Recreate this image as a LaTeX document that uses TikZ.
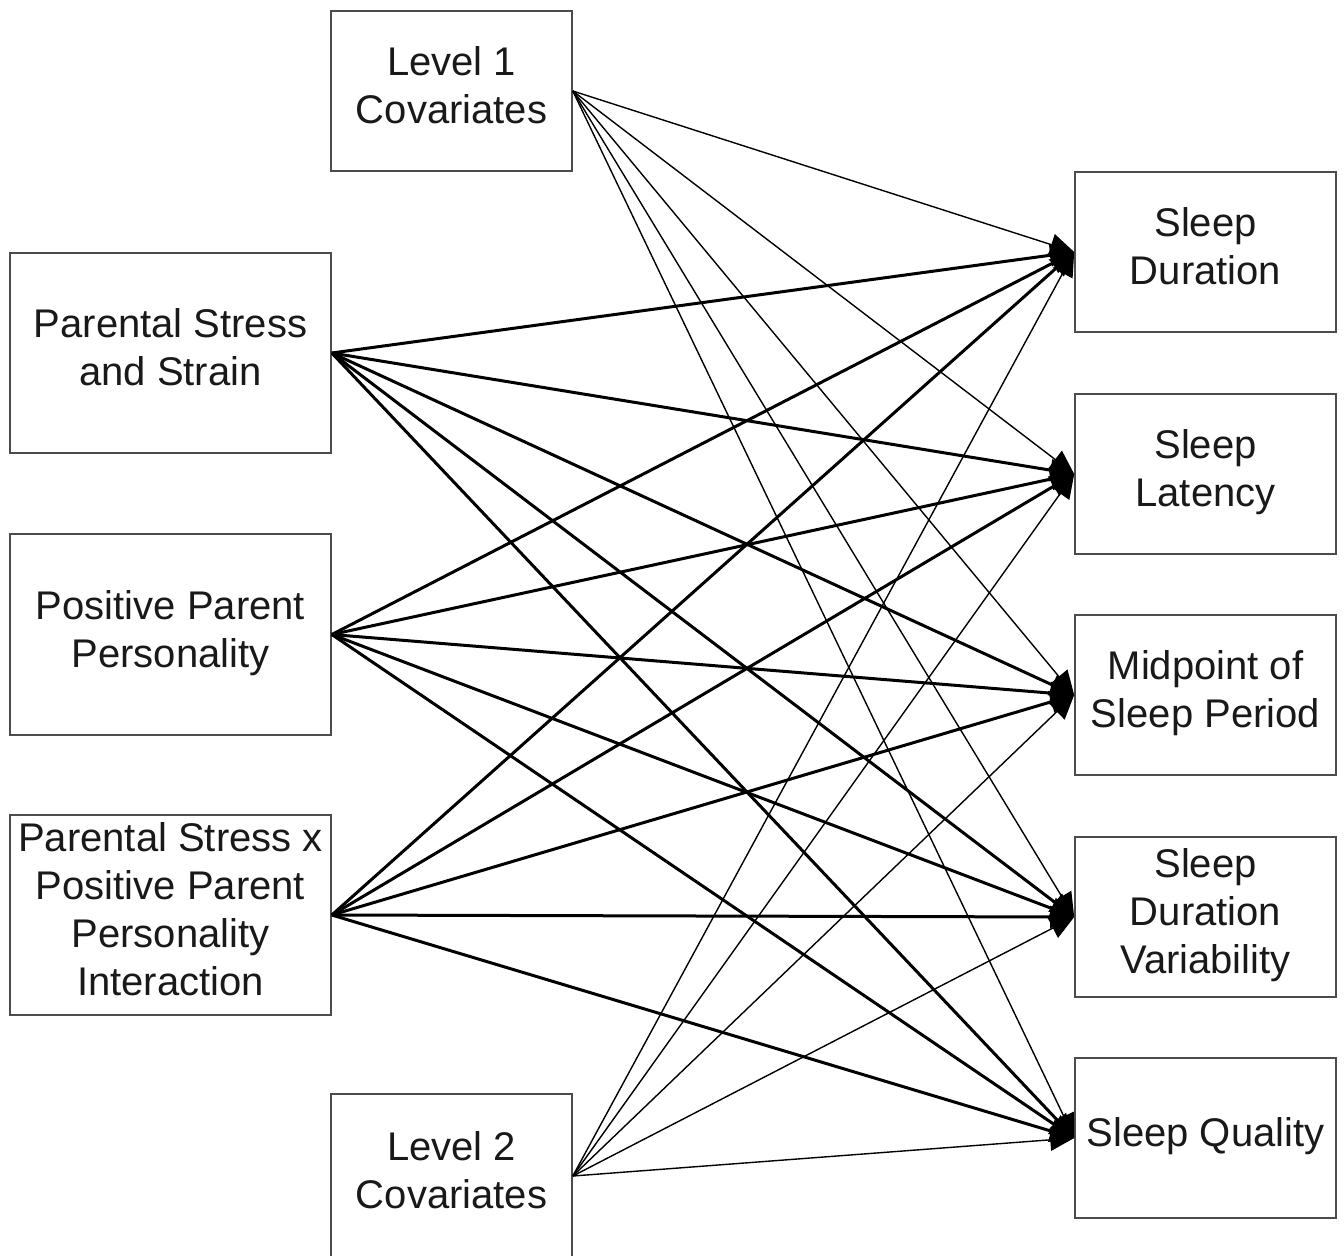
\documentclass[tikz,border=0pt]{standalone}
\usepackage{fontspec}
\setmainfont{Liberation Sans}
\usetikzlibrary{arrows.meta}
\begin{document}
\begin{tikzpicture}[x=0.5pt,y=-0.5pt,
  box/.style={draw=black!70,line width=0.8pt,fill=white,inner sep=0pt,align=center,
    font=\fontsize{20pt}{24pt}\selectfont,text=black!90,
    execute at end node={\rule[-6pt]{0pt}{0pt}}},
  thickarr/.style={line width=1.5pt,-{Triangle[length=12pt,width=11pt]}},
  thinarr/.style={line width=0.7pt,-{Triangle[length=12pt,width=11pt]}}]
\useasboundingbox (0,0) rectangle (1344,1255);
% left boxes
\node[box,minimum width=120.5pt,minimum height=80pt] (l1) at (451.5,91) {Level 1\\Covariates};
\node[box,minimum width=160.5pt,minimum height=100pt] (ps) at (170.5,353) {Parental Stress\\and Strain};
\node[box,minimum width=160.5pt,minimum height=100.5pt] (pp) at (170.5,634.5) {Positive Parent\\Personality};
\node[box,minimum width=160.5pt,minimum height=100pt] (in) at (170.5,915) {Parental Stress x\\Positive Parent\\Personality\\Interaction};
\node[box,minimum width=120.5pt,minimum height=82pt] (l2) at (451.5,1176) {Level 2\\Covariates};
% right boxes
\node[box,minimum width=130.5pt,minimum height=80pt] (sd) at (1205.5,252) {Sleep\\Duration};
\node[box,minimum width=130.5pt,minimum height=80pt] (sl) at (1205.5,474) {Sleep\\Latency};
\node[box,minimum width=130.5pt,minimum height=80pt] (mp) at (1205.5,695) {Midpoint of\\Sleep Period};
\node[box,minimum width=130.5pt,minimum height=80pt] (dv) at (1205.5,917) {Sleep\\Duration\\Variability};
\node[box,minimum width=130.5pt,minimum height=80pt] (sq) at (1205.5,1138) {Sleep Quality};
% connectors
\foreach \s in {l1,l2}{
  \foreach \t in {sd,sl,mp,dv,sq}{
    \draw[thinarr] (\s.east) -- (\t.west);
  }
}
\foreach \s in {ps,pp,in}{
  \foreach \t in {sd,sl,mp,dv,sq}{
    \draw[thickarr] (\s.east) -- (\t.west);
  }
}
\end{tikzpicture}
\end{document}
